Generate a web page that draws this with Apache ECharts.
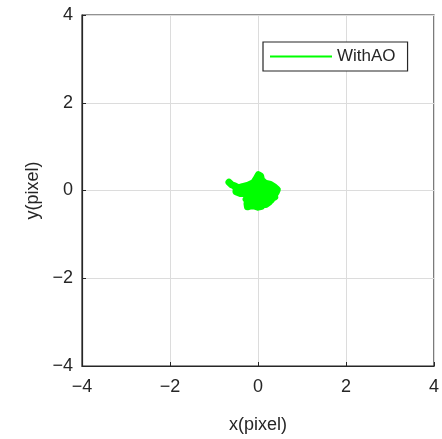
<!DOCTYPE html>
<html>
<head>
<meta charset="utf-8">
<script src="https://cdn.jsdelivr.net/npm/echarts@6/dist/echarts.min.js"></script>
<style>html,body{margin:0;padding:0;background:#fff;overflow:hidden;}#c{width:442px;height:439px;}</style>
</head>
<body>
<div id="c"></div>
<script>
const seriesName = 'WithAO';
const xTicks = [-4, -2, 0, 2, 4];
const yTicks = [-4, -2, 0, 2, 4];
const pathX = [-0.66,-0.6,-0.52,-0.44,-0.35,-0.22,-0.1,-0.04,0.01,0.06,0.08,0.16,0.28,0.37,0.44,0.41,0.3,0.15,0.02,-0.12,-0.28,-0.42,-0.5,-0.4,-0.25,-0.1,0.05,0.2,0.35,0.38,0.28,0.12,-0.05,-0.2,-0.27,-0.15,0.0,0.15,0.26,0.18,0.05,-0.1,-0.25,-0.24,-0.12,0.0,0.08,0.1,-0.02,-0.1,0.0,0.1,0.2,0.3,0.22,0.1,-0.05,-0.15,0.02,0.05,-0.3,-0.35,-0.48,-0.52,-0.4,0.3,0.4,0.2];
const pathY = [0.19,0.13,0.1,0.06,0.09,0.12,0.18,0.27,0.36,0.33,0.24,0.17,0.14,0.08,0.02,-0.05,-0.02,0.05,0.09,0.06,0.03,0.0,-0.03,-0.07,-0.06,-0.02,-0.05,-0.08,-0.1,-0.15,-0.18,-0.14,-0.12,-0.13,-0.2,-0.22,-0.2,-0.24,-0.26,-0.32,-0.3,-0.28,-0.3,-0.37,-0.34,-0.38,-0.36,-0.28,-0.24,-0.1,0.02,0.12,0.08,0.04,-0.04,0.0,0.12,0.1,0.2,0.14,0.08,-0.02,0.02,0.08,0.04,-0.22,-0.06,-0.16];

const data = pathX.map((x, i) => [x, pathY[i]]);
const font = 'Liberation Sans, Arial, sans-serif';
const dark = '#262626';
const chart = echarts.init(document.getElementById('c'));
const fmt = v => String(v).replace('-', '\u2212');
function axisCommon(name, gap, ticks){
  return {
    type: 'value', min: ticks[0], max: ticks[ticks.length-1], interval: 2,
    name: name, nameLocation: 'middle', nameGap: gap,
    nameTextStyle: {color: dark, fontSize: 18, fontFamily: font},
    axisLine: {show: true, onZero: false, lineStyle: {color: dark, width: 1.2}},
    axisTick: {show: true, inside: true, length: 4, lineStyle: {color: dark}},
    axisLabel: {color: dark, fontSize: 18, fontFamily: font, margin: 9, formatter: fmt},
    splitLine: {show: true, lineStyle: {color: '#dcdcdc', width: 1}}
  };
}
const xa = axisCommon('x(pixel)', 50, xTicks);
xa.axisLabel.margin = 12;
const ya = axisCommon('y(pixel)', 38, yTicks);
chart.setOption({
  animation: false,
  backgroundColor: '#fff',
  grid: {left: 82, right: 3, top: 15, bottom: 69, show: true, borderColor: dark, borderWidth: 1.2, backgroundColor: 'transparent'},
  xAxis: xa,
  yAxis: ya,
  legend: {
    data: [{name: seriesName, icon: 'rect'}],
    left: 263, top: 42, itemWidth: 62, itemHeight: 2, itemGap: 7,
    padding: [6, 12, 6, 7],
    borderColor: dark, borderWidth: 1.2, backgroundColor: '#fff',
    textStyle: {color: dark, fontSize: 17, fontFamily: font}
  },
  series: [{
    name: seriesName, type: 'line', data: data, symbol: 'none',
    lineStyle: {color: '#00ff00', width: 7, join: 'round', cap: 'round'},
    itemStyle: {color: '#00ff00'}
  }]
});
</script>
</body>
</html>
